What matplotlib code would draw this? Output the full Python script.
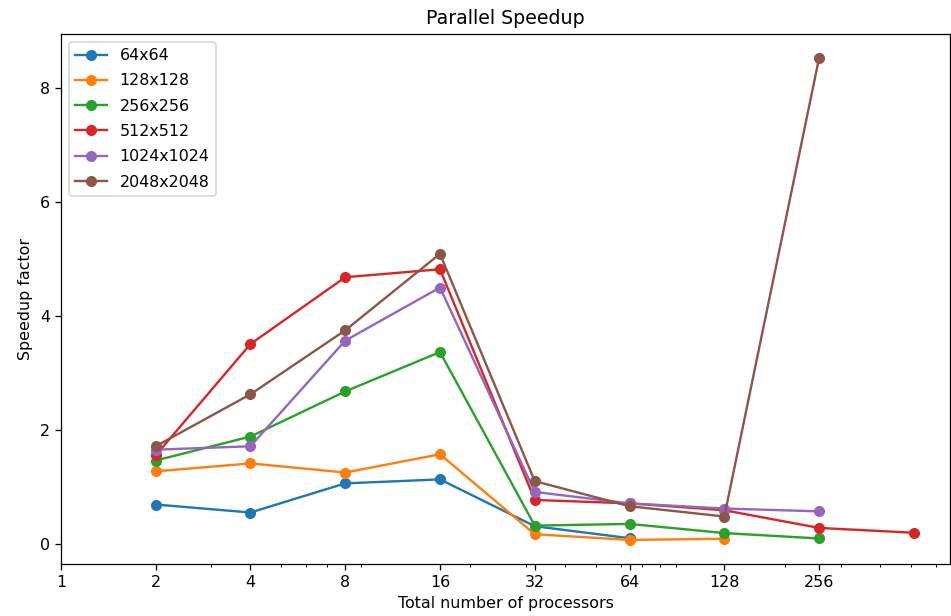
import matplotlib
matplotlib.use("Agg")
import matplotlib.pyplot as plt
from matplotlib.ticker import ScalarFormatter

labels = ["64x64", "128x128", "256x256", "512x512", "1024x1024", "2048x2048"]
procs = [2, 4, 8, 16, 32, 64, 128, 256, 512]

s64 = [0.70, 0.56, 1.07, 1.14, 0.32, 0.11]
s128 = [1.28, 1.42, 1.26, 1.58, 0.18, 0.08, 0.10]
s256 = [1.47, 1.89, 2.68, 3.37, 0.33, 0.36, 0.20, 0.105]
s512 = [1.56, 3.51, 4.68, 4.82, 0.78, 0.72, 0.60, 0.29, 0.205]
s1024 = [1.66, 1.72, 3.57, 4.50, 0.92, 0.72, 0.63, 0.58]
s2048 = [1.72, 2.63, 3.75, 5.09, 1.11, 0.67, 0.49, 8.52]

xticks = [1, 2, 4, 8, 16, 32, 64, 128, 256]

DPI = 114
fig = plt.figure(figsize=(951 / DPI, 616 / DPI), dpi=DPI)
ax = fig.add_axes([0.064, 0.0844, 0.935, 0.8606])

for lab, vals in zip(labels, [s64, s128, s256, s512, s1024, s2048]):
    ax.plot(procs[:len(vals)], vals, marker="o", label=lab)

ax.set_xscale("log")
ax.set_xticks(xticks)
ax.xaxis.set_major_formatter(ScalarFormatter())
ax.set_xlim(1, 667)
ax.set_xlabel("Total number of processors")
ax.set_ylabel("Speedup factor")
ax.set_title("Parallel Speedup")
ax.legend(loc="upper left", labelspacing=0.65)

fig.savefig("out.png", dpi=DPI)
